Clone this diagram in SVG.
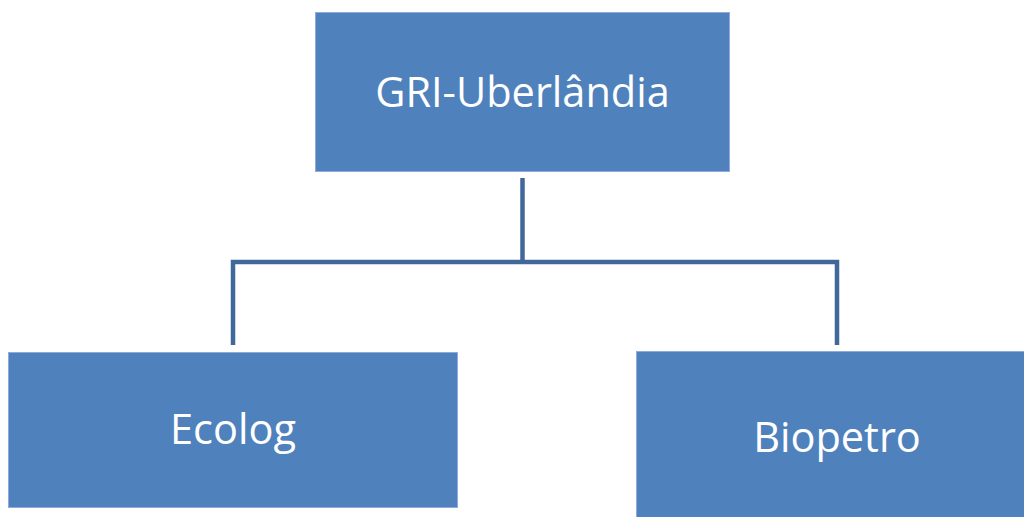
<svg xmlns="http://www.w3.org/2000/svg" width="1024" height="517" viewBox="0 0 1024 517">
<style>
.box{fill:#4F81BD;stroke:#8FAADC;stroke-width:1}
.lbl{font-family:"Open Sans","Noto Sans",sans-serif;font-size:41.5px;fill:#FFFFFF;text-anchor:middle}
.conn{fill:none;stroke:#41689A;stroke-width:4.5;stroke-linejoin:miter}
</style>
<rect width="1024" height="517" fill="#FFFFFF"/>
<g id="connectors">
<path class="conn" d="M522.5,178 V262 M233,345 V262 H837 V345"/>
</g>
<g id="node-gri">
<rect class="box" x="315.5" y="12.5" width="414" height="159"/>
<text class="lbl" x="522.5" y="107">GRI-Uberlândia</text>
</g>
<g id="node-ecolog">
<rect class="box" x="8.5" y="352.5" width="449" height="155"/>
<text class="lbl" x="233" y="444">Ecolog</text>
</g>
<g id="node-biopetro">
<rect class="box" x="636.5" y="351.5" width="400" height="180"/>
<text class="lbl" x="837" y="452">Biopetro</text>
</g>
</svg>
